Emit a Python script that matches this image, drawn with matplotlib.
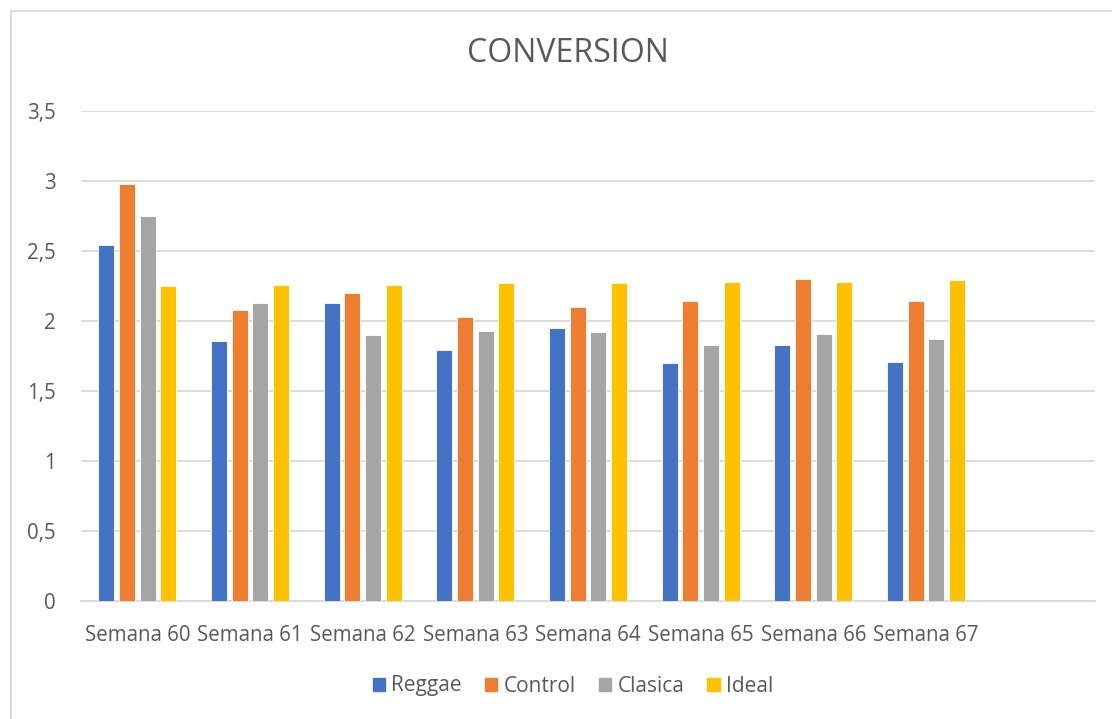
import numpy as np
import matplotlib.pyplot as plt
from matplotlib.lines import Line2D
from matplotlib.ticker import FuncFormatter

weeks = ["Semana 60", "Semana 61", "Semana 62", "Semana 63",
         "Semana 64", "Semana 65", "Semana 66", "Semana 67"]
reggae = [2.54, 1.86, 2.13, 1.79, 1.95, 1.70, 1.83, 1.71]
control = [2.98, 2.08, 2.20, 2.03, 2.10, 2.14, 2.30, 2.14]
clasica = [2.75, 2.13, 1.90, 1.93, 1.92, 1.83, 1.91, 1.87]
ideal = [2.25, 2.26, 2.26, 2.27, 2.27, 2.28, 2.28, 2.29]

series = [("Reggae", reggae, "#4472C4"),
          ("Control", control, "#ED7D31"),
          ("Clasica", clasica, "#A5A5A5"),
          ("Ideal", ideal, "#FFC000")]

plt.rcParams["font.family"] = ["Open Sans", "DejaVu Sans"]
text_col = "#595959"
grid_col = "#d9d9d9"

fig = plt.figure(figsize=(11.12, 7.19), dpi=100)
ax = fig.add_axes([81 / 1112, 1 - 601 / 719, (1095 - 81) / 1112, (601 - 111) / 719])

x = np.arange(len(weeks))
step = 0.184
width = 0.142
for i, (name, vals, col) in enumerate(series):
    ax.bar(x + (i - 1.5) * step, vals, width, color=col, label=name,
           edgecolor="white", linewidth=0.6, zorder=3)

# one empty slot after the last week, as in the original chart
ax.set_xlim(-0.5, len(weeks) + 0.5)
ax.set_ylim(0, 3.5)
ax.set_yticks(np.arange(0, 3.51, 0.5))
ax.yaxis.set_major_formatter(FuncFormatter(
    lambda v, _: f"{v:g}".replace(".", ",")))
ax.set_xticks(x)
ax.set_xticklabels(weeks)
ax.tick_params(axis="both", length=0, labelsize=14.8, colors=text_col)
ax.tick_params(axis="x", pad=17)
ax.tick_params(axis="y", pad=18)
ax.grid(axis="y", color=grid_col, linewidth=1.3, zorder=0)
for side in ["top", "right", "left"]:
    ax.spines[side].set_visible(False)
ax.spines["bottom"].set_color(grid_col)
ax.spines["bottom"].set_linewidth(1.3)

fig.text(568 / 1112, 1 - 54 / 719, "CONVERSION", ha="center", va="center",
         fontsize=23, color=text_col)

handles = [plt.Rectangle((0, 0), 1, 1, color=c) for _, _, c in series]
fig.legend(handles, [n for n, _, _ in series], loc="center",
           bbox_to_anchor=(573 / 1112, 1 - 686 / 719), ncol=4, frameon=False,
           fontsize=15, labelcolor=text_col, handlelength=0.6,
           handleheight=0.6, handletextpad=0.3, columnspacing=1.1)

# outer chart frame (left and top edges visible)
fig.add_artist(Line2D([11 / 1112, 11 / 1112], [0, 1 - 11 / 719],
                      transform=fig.transFigure, color=grid_col, linewidth=1.3))
fig.add_artist(Line2D([11 / 1112, 1], [1 - 11 / 719, 1 - 11 / 719],
                      transform=fig.transFigure, color=grid_col, linewidth=1.3))

fig.savefig("out.png", dpi=100)
